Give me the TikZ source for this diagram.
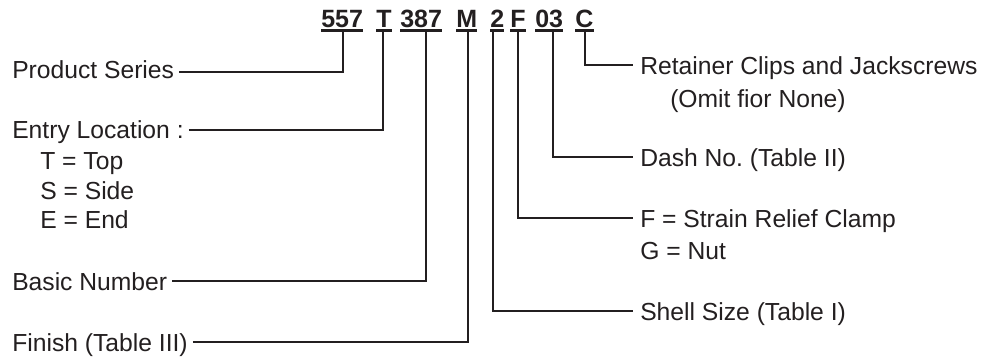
\documentclass[tikz,border=0pt]{standalone}
\usepackage{fontspec}
\setmainfont{Liberation Sans}
\definecolor{ink}{HTML}{231F20}
\frenchspacing
\begin{document}
\begin{tikzpicture}[x=0.75pt,y=-0.75pt,
  lbl/.style={anchor=base west, inner sep=0pt, text=ink, font=\fontsize{18.5}{22}\selectfont},
  code/.style={anchor=base west, inner sep=0pt, text=ink, font=\fontsize{18.75}{22}\selectfont\bfseries},
  conn/.style={draw=ink, line width=1.5pt},
  uline/.style={draw=ink, line width=1.6pt}]
\useasboundingbox (0,0) rectangle (983,357);
% code
\node[code] (c557) at (321,27) {557};
\node[code] (cT)   at (376,27) {T};
\node[code] (c387) at (400,27) {387};
\node[code] (cM)   at (456,27) {M};
\node[code] (c2)   at (490,27) {2};
\node[code] (cF)   at (510,27) {F};
\node[code] (c03)  at (535,27) {03};
\node[code] (cC)   at (575,27) {C};
\foreach \n in {c557,cT,c387,cM,c2,cF,c03,cC}
  \draw[uline] ([yshift=-2.6pt]\n.base west) -- ([yshift=-2.6pt]\n.base east);
% connector tops
\coordinate (p557) at (343,30);
\coordinate (pT)   at (383,30);
\coordinate (p387) at (426,30);
\coordinate (pM)   at (468,30);
\coordinate (p2)   at (493,30);
\coordinate (pF)   at (518,30);
\coordinate (p03)  at (553,30);
\coordinate (pC)   at (585,30);
% left labels
\node[lbl] (ps) at (12,78) {Product Series};
\node[lbl] (el) at (12,138) {Entry Location :};
\node[lbl] (tt) at (40,169) {T = Top};
\node[lbl] (ss) at (40,199) {S = Side};
\node[lbl] (ee) at (40,228) {E = End};
\node[lbl] (bn) at (12,290) {Basic Number};
\node[lbl] (fi) at (12,351) {Finish (Table III)};
% right labels
\node[lbl] (rc) at (640,74) {Retainer Clips and Jackscrews};
\node[lbl] (om) at (670,107) {(Omit fior None)};
\node[lbl] (dn) at (640,166) {Dash No. (Table II)};
\node[lbl] (fs) at (640,227) {F = Strain Relief Clamp};
\node[lbl] (gn) at (640,259) {G = Nut};
\node[lbl] (sz) at (640,320) {Shell Size (Table I)};
% right-side line ends
\coordinate (erc) at (633,65);
\coordinate (edn) at (633,157);
\coordinate (efs) at (633,218);
\coordinate (esz) at (633,311);
% connectors
\draw[conn] ([xshift=3.75pt,yshift=4.5pt]ps.base east) -| (p557);
\draw[conn] ([xshift=3.75pt,yshift=6pt]el.base east) -| (pT);
\draw[conn] ([xshift=3.75pt,yshift=6.75pt]bn.base east) -| (p387);
\draw[conn] ([xshift=3.75pt,yshift=6.75pt]fi.base east) -| (pM);
\draw[conn] (pC) |- (erc);
\draw[conn] (p03) |- (edn);
\draw[conn] (pF) |- (efs);
\draw[conn] (p2) |- (esz);
\end{tikzpicture}
\end{document}
